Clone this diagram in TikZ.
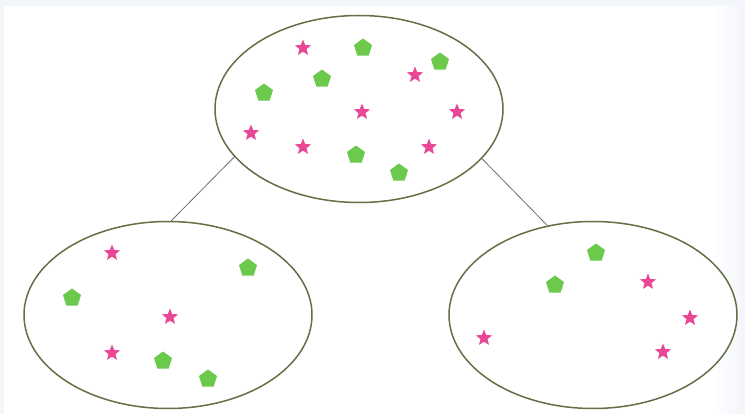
\documentclass[tikz,border=0pt]{standalone}
\usetikzlibrary{shapes.geometric}
\definecolor{BackClr}{rgb}{0.95,0.96,0.98}
\definecolor{EllClr}{rgb}{0.38,0.44,0.27}
\definecolor{LineClr}{rgb}{0.42,0.45,0.40}
\definecolor{StarClr}{rgb}{0.91,0.28,0.59}
\definecolor{PentClr}{rgb}{0.42,0.79,0.30}

\begin{document}
\begin{tikzpicture}[x=1pt,y=-1pt,
  set/.style={ellipse,draw=EllClr,line width=1.5pt,fill=white,
    minimum width=288pt,minimum height=187pt,inner sep=0pt},
  starmark/.style={star,star points=5,star point ratio=2.3,fill=StarClr,
    minimum size=17pt,inner sep=0pt},
  pentmark/.style={regular polygon,regular polygon sides=5,fill=PentClr,
    minimum size=19pt,inner sep=0pt},
  link/.style={draw=LineClr,line width=0.8pt}]

\fill[BackClr] (0,0) rectangle (745,414);
\fill[white] (4,6) rectangle (712,414);
\shade[left color=white,right color=BackClr] (712,6) rectangle (745,414);
\useasboundingbox (0,0) rectangle (745,414);

\node[set] (top) at (359,109) {};
\node[set] (left) at (168,315) {};
\node[set] (right) at (593,315) {};

\draw[link] (top.201.8) -- (left.88);
\draw[link] (top.338.4) -- (right.117);

% top set
\foreach \x/\y/\n in {303/48/ta,415/75/tb,362/112/tc,457/112/td,251/133/te,303/147/tf,429/147/tg}
  \node[starmark] (\n) at (\x,\y) {};
\foreach \x/\y/\n in {363/48/pa,440/62/pb,322/79/pc,264/93/pd,356/155/pe,399/173/pf}
  \node[pentmark] (\n) at (\x,\y) {};

% left set
\foreach \x/\y/\n in {112/253/la,170/317/lb,112/353/lc}
  \node[starmark] (\n) at (\x,\y) {};
\foreach \x/\y/\n in {248/268/lpa,72/298/lpb,163/361/lpc,208/379/lpd}
  \node[pentmark] (\n) at (\x,\y) {};

% right set
\foreach \x/\y/\n in {648/282/ra,690/318/rb,484/338/rc,663/352/rd}
  \node[starmark] (\n) at (\x,\y) {};
\foreach \x/\y/\n in {596/253/rpa,555/285/rpb}
  \node[pentmark] (\n) at (\x,\y) {};

\end{tikzpicture}
\end{document}
